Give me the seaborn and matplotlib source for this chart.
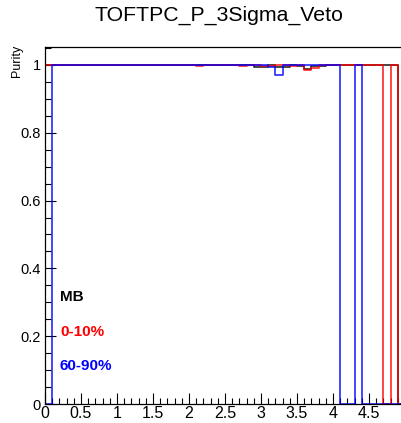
import numpy as np
import pandas as pd
import matplotlib
matplotlib.use("Agg")
import matplotlib.pyplot as plt
import seaborn as sns
from matplotlib.ticker import MultipleLocator

# ---- data: purity per momentum bin (bin width 0.1 from 0 to 5) ----
bin_edges = [round(0.1 * i, 1) for i in range(51)]
bin_centers = [round(0.05 + 0.1 * i, 2) for i in range(50)]

mb_purity = [1.0] * 50
for i, v in {29: 0.995, 30: 0.995, 32: 0.995, 33: 0.995, 35: 0.998,
             36: 0.987, 37: 0.998, 38: 0.998, 49: 0.0}.items():
    mb_purity[i] = v

c010_purity = [1.0] * 50
for i, v in {21: 0.998, 27: 0.998, 30: 0.996, 31: 0.996, 34: 0.997,
             36: 0.985, 37: 0.99, 47: 0.0, 49: 0.0}.items():
    c010_purity[i] = v

c6090_purity = [1.0] * 50
for i, v in {0: 0.0, 31: 0.995, 32: 0.970, 41: 0.0, 42: 0.0,
             44: 0.0, 45: 0.0, 46: 0.0, 47: 0.0, 48: 0.0, 49: 0.0}.items():
    c6090_purity[i] = v

series_names = ["MB", "0-10%", "60-90%"]
series_values = [mb_purity, c010_purity, c6090_purity]
series_colors = ["#000000", "#ff0000", "#0000ff"]

x_tick_labels = ["0", "0.5", "1", "1.5", "2", "2.5", "3", "3.5", "4", "4.5", "5"]
y_tick_labels = ["0", "0.2", "0.4", "0.6", "0.8", "1"]

title_text = "TOFTPC_P_3Sigma_Veto"
y_label = "Purity"

df = pd.concat([
    pd.DataFrame({"p": bin_centers, "purity": vals, "set": name})
    for name, vals in zip(series_names, series_values)
], ignore_index=True)

# ---- figure ----
sns.set_style("white")
plt.rcParams["font.family"] = ["Liberation Sans", "DejaVu Sans"]
plt.rcParams["text.color"] = "black"

W, H = 402, 423
fig = plt.figure(figsize=(W / 100, H / 100), dpi=100)

def fx(px):
    return px / W

def fy(py):
    return 1 - py / H

ax_left, ax_right, ax_top, ax_bottom = 45, 405, 47, 404
ax = fig.add_axes([fx(ax_left), fy(ax_bottom), (ax_right - ax_left) / W,
                   (ax_bottom - ax_top) / H])

for name, col in zip(series_names, series_colors):
    sub = df[df["set"] == name]
    sns.histplot(data=sub, x="p", weights="purity", bins=bin_edges,
                 element="step", fill=False, color=col, linewidth=1.2,
                 alpha=0.85, ax=ax)

ax.set_xlim(0, 5)
ax.set_ylim(0, 1.053)
ax.set_xlabel("")
ax.set_ylabel("")

ax.set_xticks(np.arange(0, 5.01, 0.5))
ax.set_xticklabels(x_tick_labels)
ax.set_yticks(np.arange(0, 1.01, 0.2))
ax.set_yticklabels(y_tick_labels)
ax.xaxis.set_minor_locator(MultipleLocator(0.1))
ax.yaxis.set_minor_locator(MultipleLocator(0.05))

ax.tick_params(axis="both", which="major", direction="in", length=8, width=0.8,
               color="black", labelcolor="black")
ax.tick_params(axis="both", which="minor", direction="in", length=4.3, width=0.8,
               color="black")
ax.tick_params(axis="x", which="both", bottom=True, top=False, pad=1.5, labelsize=11.5)
ax.tick_params(axis="y", which="both", left=True, right=False, pad=3, labelsize=10.5)

for s in ["left", "bottom", "top", "right"]:
    ax.spines[s].set_color("black")
    ax.spines[s].set_linewidth(0.9)

# title and y label (ROOT style)
fig.text(fx(219), fy(15), title_text, ha="center", va="center", fontsize=15.3,
         color="black")
fig.text(fx(17), fy(45), y_label, ha="center", va="top", rotation=90, fontsize=9,
         color="black")

# in-plot legend texts
for name, col, base in zip(series_names, series_colors, [301, 336, 370]):
    fig.text(fx(60), fy(base), name, color=col, fontsize=11, fontweight="bold",
             ha="left", va="baseline")

fig.savefig("out.png", dpi=100, facecolor="white")
